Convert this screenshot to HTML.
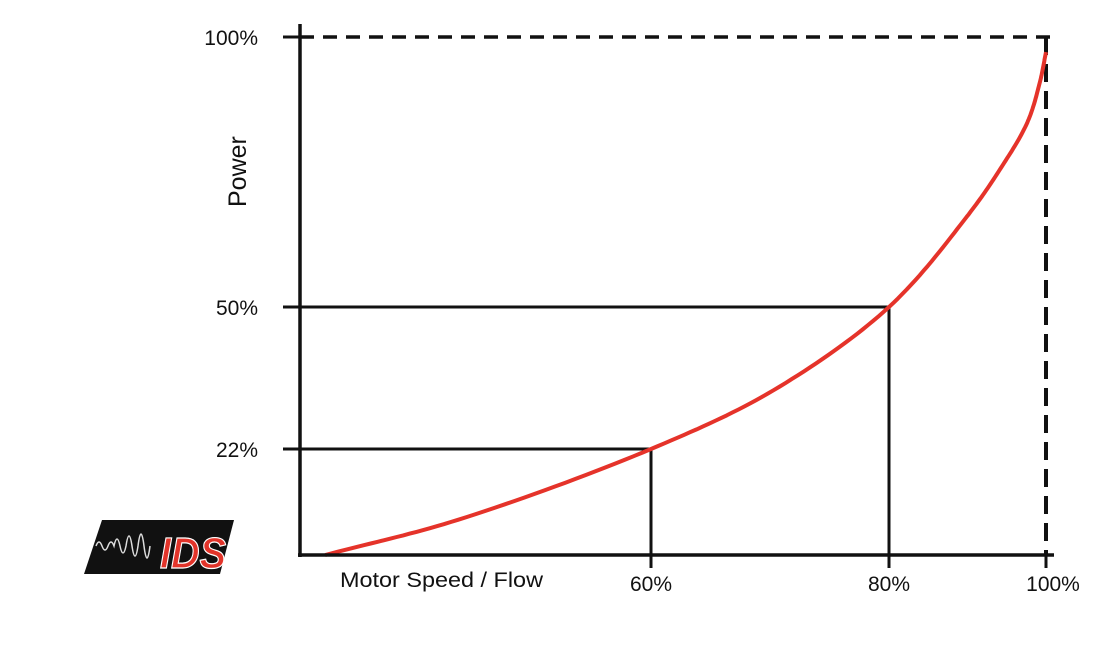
<!DOCTYPE html>
<html><head><meta charset="utf-8"><style>
html,body{margin:0;padding:0;background:#fff;width:1116px;height:656px;overflow:hidden}
svg{display:block}
text{font-family:"Liberation Sans Narrow","Liberation Sans",sans-serif;fill:#111}
</style></head><body>
<svg id="chart" width="1116" height="656">
<g id="grid"></g>
<g id="curve"></g>
<g id="axes"></g>
<g id="labels"></g>
<g transform="translate(84,520)">
<polygon points="18,0 150,0 136,54 0,54" fill="#111"/>
<path d="M12,26 q3,-8 6,0 t6,0 t6,0 q3,-14 6,0 t6,0 q3,-20 6,0 t6,0 q3,-24 6,0 t6,0" stroke="#ddd" stroke-width="1.5" fill="none"/>
<text x="76" y="48" font-size="44" font-weight="bold" font-style="italic" style="fill:#e2342a;font-family:'Liberation Sans',sans-serif" stroke="#fff" stroke-width="1.2" textLength="66" lengthAdjust="spacingAndGlyphs">IDS</text>
</g>
</svg>
<script>
const xTicks=[0,60,80,100];
const xTickPx=[300,651,889,1046];
const yTicks=[0,22,50,100];
const yTickPx=[555,449,307,37];
const xLabels=["60%","80%","100%"];
const yLabels=["22%","50%","100%"];
const speed=[4.3,27,60,70.3,80,89.9,94.1,97.6,99.2,100];
const power=[0,7.3,22,33.6,50,66.7,75.4,84.1,91.5,97.2];
function pw(v,d,r){for(let i=0;i<d.length-1;i++){if(v<=d[i+1]||i==d.length-2){return r[i]+(v-d[i])/(d[i+1]-d[i])*(r[i+1]-r[i]);}}}
const X=v=>pw(v,xTicks,xTickPx), Y=v=>pw(v,yTicks,yTickPx);
const NS="http://www.w3.org/2000/svg";
function mk(t,a,p){const e=document.createElementNS(NS,t);for(const k in a)e.setAttribute(k,a[k]);document.getElementById(p).appendChild(e);return e;}
[[60,22],[80,50]].forEach((g,i)=>{
 const l=mk('polyline',{points:`${X(0)},${Y(g[1])} ${X(g[0])},${Y(g[1])} ${X(g[0])},${Y(0)}`,fill:'none',stroke:'#111','stroke-width':3},'grid');
 
 
});
let d1=mk('line',{x1:X(0),y1:Y(100),x2:X(100)+8,y2:Y(100),stroke:'#111','stroke-width':3.5,'stroke-dasharray':'14 9'},'grid');


let d2=mk('line',{x1:X(100),y1:Y(100),x2:X(100),y2:Y(0),stroke:'#111','stroke-width':4,'stroke-dasharray':'18 9'},'grid');


// centripetal catmull-rom
const P=speed.map((s,i)=>[X(s),Y(power[i])]);
function tj(ti,a,b){return ti+Math.pow(Math.hypot(b[0]-a[0],b[1]-a[1]),0.5)||ti+1e-6;}
let out=[P[0]];
for(let i=0;i<P.length-1;i++){
 const p1=P[i],p2=P[i+1];
 const p0=i>0?P[i-1]:[2*p1[0]-p2[0],2*p1[1]-p2[1]];
 const p3=i<P.length-2?P[i+2]:[2*p2[0]-p1[0],2*p2[1]-p1[1]];
 const t0=0,t1=tj(t0,p0,p1),t2=tj(t1,p1,p2),t3=tj(t2,p2,p3);
 for(let k=1;k<=20;k++){const t=t1+(t2-t1)*k/20;const r=[0,1].map(j=>{
  const A1=(t1-t)/(t1-t0)*p0[j]+(t-t0)/(t1-t0)*p1[j];
  const A2=(t2-t)/(t2-t1)*p1[j]+(t-t1)/(t2-t1)*p2[j];
  const A3=(t3-t)/(t3-t2)*p2[j]+(t-t2)/(t3-t2)*p3[j];
  const B1=(t2-t)/(t2-t0)*A1+(t-t0)/(t2-t0)*A2;
  const B2=(t3-t)/(t3-t1)*A2+(t-t1)/(t3-t1)*A3;
  return (t2-t)/(t2-t1)*B1+(t-t1)/(t2-t1)*B2;});out.push(r);}
}
const c=mk('polyline',{points:out.map(p=>p[0].toFixed(1)+','+p[1].toFixed(1)).join(' '),fill:'none',stroke:'#e5332a','stroke-width':4,'stroke-linejoin':'round'},'curve');


let ya=mk('line',{x1:300,y1:24,x2:300,y2:557,stroke:'#111','stroke-width':3.5},'axes');


let xa=mk('line',{x1:298,y1:555,x2:1054,y2:555,stroke:'#111','stroke-width':3.5},'axes');


yTicks.slice(1).forEach((v,i)=>{
 const t=mk('line',{x1:283,y1:Y(v),x2:300,y2:Y(v),stroke:'#111','stroke-width':3},'axes');
 
 
 const tx=mk('text',{x:258,y:Y(v)+8,'font-size':21,'text-anchor':'end'},'labels');
 tx.textContent=yLabels[i];
 
 
});
xTicks.slice(1).forEach((v,i)=>{
 const t=mk('line',{x1:X(v),y1:555,x2:X(v),y2:568,stroke:'#111','stroke-width':3},'axes');
 
 
 const tx=mk('text',{x:X(v)+(i==2?7:0),y:591,'font-size':21,'text-anchor':'middle'},'labels');
 tx.textContent=xLabels[i];
 
 
});
const xt=mk('text',{x:340,y:587,'font-size':21,textLength:203,lengthAdjust:'spacingAndGlyphs'},'labels');
xt.textContent='Motor Speed / Flow';


const yt=mk('text',{x:0,y:0,'font-size':25,transform:'translate(246,207) rotate(-90)'},'labels');
yt.textContent='Power';


</script>
</body></html>
